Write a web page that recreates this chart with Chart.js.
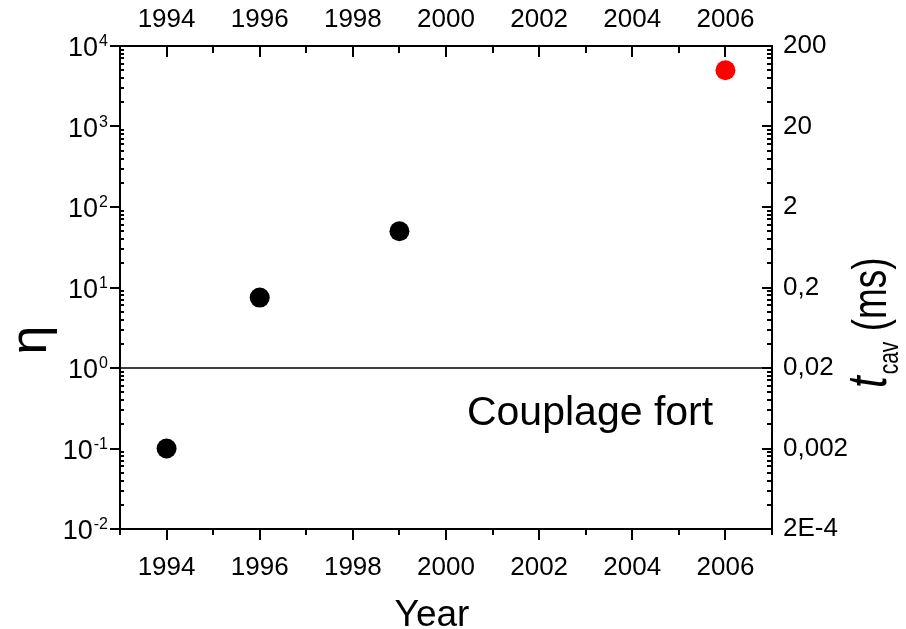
<!DOCTYPE html>
<html>
<head>
<meta charset="utf-8">
<script src="https://cdn.jsdelivr.net/npm/chart.js@4.4.0/dist/chart.umd.min.js"></script>
<style>
  body { margin: 0; background: #fff; }
  #wrap { width: 906px; height: 629px; position: relative; }
</style>
</head>
<body>
<div id="wrap"><canvas id="grafico"></canvas></div>
<script>
// datos
var years = [1994, 1996, 1999, 2006];
var eta = [0.1, 7.5, 50, 5000];
var pointColors = ['#000000', '#000000', '#000000', '#ff0000'];

// ejes
var yearTicks = [1993, 1994, 1995, 1996, 1997, 1998, 1999, 2000, 2001, 2002, 2003, 2004, 2005, 2006, 2007];
var etaExponents = [-2, -1, 0, 1, 2, 3, 4];
var tcavTicks = [0.0002, 0.002, 0.02, 0.2, 2, 20, 200];
var tcavLabels = ['2E-4', '0,002', '0,02', '0,2', '2', '20', '200'];

// linea eta = 1 y texto
var strongX = [1993, 2007];
var strongY = [1, 1];
var noteText = 'Couplage fort';
var noteX = 2000.45;
var noteY = 0.196;

var FONT = "'Liberation Sans', Arial, sans-serif";
Chart.defaults.font.family = FONT;
Chart.defaults.color = '#000';

function fixSize(w, h) {
  return function(scale) {
    if (w !== null) scale.width = w;
    if (h !== null) scale.height = h;
  };
}

var ejesPlugin = {
  id: 'ejes',
  afterDraw: function(chart) {
    var ctx = chart.ctx, a = chart.chartArea;
    var x = chart.scales.x, y = chart.scales.y;
    ctx.save();
    ctx.strokeStyle = '#000';
    ctx.lineWidth = 2;
    ctx.beginPath();
    // marcas del eje x (abajo afuera, arriba adentro)
    yearTicks.forEach(function(v) {
      var px = Math.round(x.getPixelForValue(v));
      var major = v % 2 === 0;
      ctx.moveTo(px, a.bottom); ctx.lineTo(px, a.bottom + (major ? 11 : 6));
      ctx.moveTo(px, a.top); ctx.lineTo(px, a.top + (major ? 11 : 7));
    });
    // marcas del eje y
    etaExponents.forEach(function(e) {
      var py = Math.round(y.getPixelForValue(Math.pow(10, e)));
      ctx.moveTo(a.left - 10, py); ctx.lineTo(a.left, py);
      ctx.moveTo(a.right - 10, py); ctx.lineTo(a.right, py);
      if (e < 4) {
        for (var k = 2; k <= 9; k++) {
          var pm = Math.round(y.getPixelForValue(k * Math.pow(10, e)));
          ctx.moveTo(a.left, pm); ctx.lineTo(a.left + 4, pm);
          ctx.moveTo(a.right - 5, pm); ctx.lineTo(a.right, pm);
        }
      }
    });
    ctx.stroke();

    // etiquetas 10^n
    ctx.fillStyle = '#000';
    etaExponents.forEach(function(e) {
      var py = y.getPixelForValue(Math.pow(10, e));
      var ex = String(e);
      ctx.font = '16px ' + FONT;
      var wExp = ctx.measureText(ex).width;
      var xExp = a.left - 12 - wExp;
      ctx.textAlign = 'left';
      ctx.textBaseline = 'alphabetic';
      ctx.fillText(ex, xExp, py);
      ctx.font = '27px ' + FONT;
      ctx.textAlign = 'right';
      ctx.textBaseline = 'middle';
      ctx.fillText('10', xExp - 1, py + 3);
    });

    // texto "Couplage fort"
    ctx.font = '41px ' + FONT;
    ctx.textAlign = 'left';
    ctx.textBaseline = 'alphabetic';
    ctx.fillText(noteText, x.getPixelForValue(noteX), y.getPixelForValue(noteY));

    // titulo eje x
    ctx.font = '37px ' + FONT;
    ctx.textAlign = 'center';
    ctx.fillText('Year', 432, 626);

    // titulo eje izquierdo: eta
    ctx.save();
    ctx.translate(36, 340);
    ctx.rotate(-Math.PI / 2);
    ctx.font = '52px ' + FONT;
    ctx.textAlign = 'center';
    ctx.textBaseline = 'middle';
    ctx.fillText('\u03b7', 0, -4);
    ctx.restore();

    // titulo eje derecho: t_cav (ms)
    ctx.save();
    ctx.translate(886, 388);
    ctx.rotate(-Math.PI / 2);
    ctx.scale(1, 1.3);
    ctx.textAlign = 'left';
    ctx.textBaseline = 'alphabetic';
    var cx = 0;
    ctx.font = 'italic 42px ' + FONT;
    ctx.fillText('t', cx, 0);
    cx += ctx.measureText('t').width + 2;
    ctx.font = '21px ' + FONT;
    ctx.fillText('cav', cx, 9);
    cx += ctx.measureText('cav').width;
    ctx.font = '37px ' + FONT;
    ctx.fillText(' (ms)', cx, 0);
    ctx.restore();

    ctx.restore();
  }
};

new Chart(document.getElementById('grafico').getContext('2d'), {
  type: 'scatter',
  data: {
    datasets: [{
      type: 'line',
      data: strongX.map(function(v, i) { return {x: v, y: strongY[i]}; }),
      borderColor: '#000',
      borderWidth: 1.3,
      pointRadius: 0,
      fill: false,
      xAxisID: 'x',
      yAxisID: 'y'
    }, {
      data: years.map(function(v, i) { return {x: v, y: eta[i]}; }),
      pointRadius: 10,
      pointHoverRadius: 10,
      pointBackgroundColor: pointColors,
      pointBorderWidth: 0,
      borderWidth: 0,
      xAxisID: 'x',
      yAxisID: 'y'
    }]
  },
  options: {
    responsive: true,
    maintainAspectRatio: false,
    animation: false,
    layout: { padding: 0 },
    plugins: { legend: { display: false }, tooltip: { enabled: false } },
    scales: {
      x: {
        type: 'linear', position: 'bottom', min: 1993, max: 2007,
        afterBuildTicks: function(s) { s.ticks = yearTicks.map(function(v) { return {value: v}; }); },
        afterFit: fixSize(null, 100),
        grid: { display: false, drawTicks: false },
        border: { display: true, color: '#000', width: 2 },
        ticks: {
          autoSkip: false, maxRotation: 0, padding: 23,
          font: { size: 26 },
          callback: function(v) { return v % 2 === 0 ? String(v) : ''; }
        }
      },
      x2: {
        type: 'linear', position: 'top', min: 1993, max: 2007,
        afterBuildTicks: function(s) { s.ticks = yearTicks.map(function(v) { return {value: v}; }); },
        afterFit: fixSize(null, 46),
        grid: { display: false, drawTicks: false },
        border: { display: true, color: '#000', width: 2 },
        ticks: {
          autoSkip: false, maxRotation: 0, padding: 11,
          font: { size: 26 },
          callback: function(v) { return v % 2 === 0 ? String(v) : ''; }
        }
      },
      y: {
        type: 'logarithmic', position: 'left', min: 0.01, max: 10000,
        afterFit: fixSize(120, null),
        grid: { display: false, drawTicks: false },
        border: { display: true, color: '#000', width: 2 },
        ticks: { display: false }
      },
      y2: {
        type: 'logarithmic', position: 'right', min: 0.0002, max: 200,
        afterBuildTicks: function(s) { s.ticks = tcavTicks.map(function(v) { return {value: v}; }); },
        afterFit: fixSize(134, null),
        grid: { display: false, drawTicks: false },
        border: { display: true, color: '#000', width: 2 },
        ticks: {
          autoSkip: false, padding: 11,
          font: { size: 26 },
          callback: function(v, i) { return tcavLabels[i]; }
        }
      }
    }
  },
  plugins: [ejesPlugin]
});
</script>
</body>
</html>
